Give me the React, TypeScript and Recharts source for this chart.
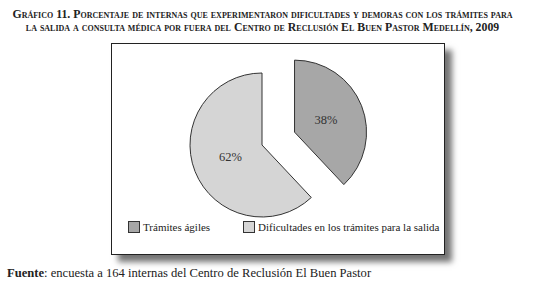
import React from 'react';
import { Pie, PieChart, Cell, Sector, Legend } from 'recharts';

const categories = ['Trámites ágiles', 'Dificultades en los trámites para la salida'];
const percentages = [38, 62];
const titleLines = [
  'Gráfico 11. Porcentaje de internas que experimentaron dificultades y demoras con los trámites para',
  'la salida a consulta médica por fuera del Centro de Reclusión El Buen Pastor Medellín, 2009',
];
const sourceLabel = 'Fuente';
const sourceText = ': encuesta a 164 internas del Centro de Reclusión El Buen Pastor';

const fills = ['#a7a7a7', '#d5d5d5'];
const explode = [35, 0];
const serif = "'Liberation Serif', 'Times New Roman', serif";

const pieData = categories.map((name, i) => ({ name, value: percentages[i] }));

const RAD = Math.PI / 180;

function offsetFor(name: string, midAngle: number) {
  const d = explode[categories.indexOf(name)] || 0;
  return { dx: Math.cos(-midAngle * RAD) * d, dy: Math.sin(-midAngle * RAD) * d };
}

function ExplodedSector(props: any) {
  const { dx, dy } = offsetFor(props.payload?.name ?? props.name, props.midAngle);
  return <Sector {...props} cx={props.cx + dx} cy={props.cy + dy} />;
}

function renderLabel(props: any) {
  const { cx, cy, midAngle, outerRadius, value, name } = props;
  const { dx, dy } = offsetFor(name, midAngle);
  const r = outerRadius * 0.47;
  const x = cx + dx + r * Math.cos(-midAngle * RAD);
  const y = cy + dy + r * Math.sin(-midAngle * RAD);
  return (
    <text x={x} y={y} textAnchor="middle" dominantBaseline="central" fill="#333" fontSize={12.5} fontFamily={serif}>
      {`${value}%`}
    </text>
  );
}

function LegendContent() {
  return (
    <div style={{ display: 'flex', fontFamily: serif, fontSize: 11, color: '#222', whiteSpace: 'nowrap' }}>
      {categories.map((c, i) => (
        <div key={c} style={{ display: 'flex', alignItems: 'center', width: i === 0 ? 115 : 'auto' }}>
          <span
            style={{
              display: 'inline-block',
              width: 10,
              height: 10,
              background: fills[i],
              border: '1px solid #333',
              marginRight: 3,
            }}
          />
          {c}
        </div>
      ))}
    </div>
  );
}

export default function App() {
  return (
    <div style={{ position: 'absolute', left: 0, top: 0, width: 555, height: 287, background: '#fff', fontFamily: serif }}>
      <div
        style={{
          position: 'absolute',
          top: 8,
          left: 0,
          width: 525,
          textAlign: 'center',
          fontWeight: 'bold',
          fontVariant: 'small-caps',
          fontSize: 11.8,
          lineHeight: '13px',
          color: '#222',
          whiteSpace: 'nowrap',
        }}
      >
        {titleLines.map((l) => (
          <div key={l}>{l}</div>
        ))}
      </div>
      <div
        style={{
          position: 'absolute',
          left: 111,
          top: 43,
          width: 332,
          height: 210,
          border: '1px solid #222',
          boxShadow: '7px 7px 6px rgba(0,0,0,0.55)',
          background: '#fff',
        }}
      />
      <div style={{ position: 'absolute', left: 0, top: 0 }}>
        <PieChart width={555} height={287}>
          <Pie
            data={pieData}
            dataKey="value"
            nameKey="name"
            cx={257}
            cy={140}
            outerRadius={72}
            startAngle={90}
            endAngle={-270}
            stroke="#333"
            strokeWidth={1}
            labelLine={false}
            label={renderLabel}
            shape={ExplodedSector}
            isAnimationActive={false}
          >
            {pieData.map((d, i) => (
              <Cell key={d.name} fill={fills[i]} />
            ))}
          </Pie>
          <Legend
            content={<LegendContent />}
            wrapperStyle={{ position: 'absolute', left: 128, top: 221, width: 320 }}
          />
        </PieChart>
      </div>
      <div style={{ position: 'absolute', left: 7, top: 266, fontSize: 12.6, color: '#222', whiteSpace: 'nowrap' }}>
        <b>{sourceLabel}</b>
        {sourceText}
      </div>
    </div>
  );
}
